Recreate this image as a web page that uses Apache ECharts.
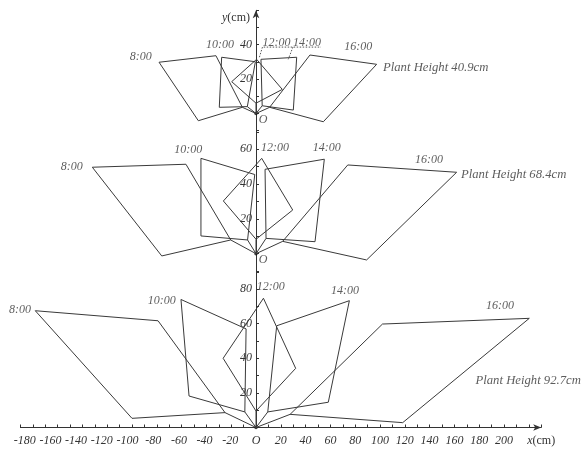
<!DOCTYPE html>
<html><head><meta charset="utf-8">
<script src="https://cdn.jsdelivr.net/npm/echarts@6/dist/echarts.min.js"></script>
<style>html,body{margin:0;padding:0;background:#fff}#c{width:583px;height:454px}</style>
</head><body><div id="c"></div>
<script>
// ---------- data ----------
const times = ['8:00', '10:00', '12:00', '14:00', '16:00'];
const plantHeights = ['Plant Height 40.9cm', 'Plant Height 68.4cm', 'Plant Height 92.7cm'];
const xTickLabels = [-180, -160, -140, -120, -100, -80, -60, -40, -20, 0, 20, 40, 60, 80, 100, 120, 140, 160, 180, 200];
const yTickLabels409 = [20, 40];
const yTickLabels684 = [20, 40, 60];
const yTickLabels927 = [20, 40, 60, 80];

// leaf outlines (cm): origin -> petiole end A -> blade corners -> back to A
const leaves409 = [
  [[0, 0], [-11, 3.6], [-46.5, -4.2], [-78.2, 29.8], [-32.3, 33.6], [-11, 3.6]],
  [[0, 0], [-7, 4], [-29.6, 3.6], [-27.7, 32.7], [-0.5, 30.1], [-7, 4]],
  [[0, 0], [0, 6], [-19.6, 18.5], [0.5, 31.5], [21.2, 14], [0, 6]],
  [[0, 0], [5, 4.5], [30.1, 2], [32.8, 32.7], [4, 31.5], [5, 4.5]],
  [[0, 0], [11, 3.6], [54.3, -4.8], [97.3, 28.6], [43.5, 34], [11, 3.6]]
];
const leaves684 = [
  [[0, 0], [-20.4, 7.9], [-76, -1.3], [-132, 49.7], [-56.5, 51.4], [-20.4, 7.9]],
  [[0, 0], [-6.8, 7.9], [-44.4, 10.2], [-44.4, 54.8], [-1, 45.5], [-6.8, 7.9]],
  [[0, 0], [0, 8.3], [-26.3, 30.3], [4.6, 54.8], [29.6, 25.1], [0, 8.3]],
  [[0, 0], [8.1, 8.8], [47.6, 6.9], [55.1, 54.3], [7.3, 48.5], [8.1, 8.8]],
  [[0, 0], [21.5, 7.1], [89.2, -3.6], [161.8, 46.8], [74, 51], [21.5, 7.1]]
];
const leaves927 = [
  [[0, 0], [-25, 8.6], [-100, 5.3], [-178, 67.5], [-79, 61.7], [-25, 8.6]],
  [[0, 0], [-9, 9], [-54, 18.2], [-60.5, 74], [-8, 57], [-9, 9]],
  [[0, 0], [0, 9.5], [-26.5, 40], [6, 74.7], [32, 34.2], [0, 9.5]],
  [[0, 0], [9.5, 9], [58.3, 14.6], [75.3, 73.3], [16.7, 58.8], [9.5, 9]],
  [[0, 0], [27.5, 7.6], [118.3, 2.8], [220.4, 63.1], [102, 59.8], [27.5, 7.6]]
];
// where each time label sits (cm, in its panel)
const timeLabelAt409 = [[-93, 33], [-29, 39.8], [16.5, 40.8], [41.2, 41.2], [82.5, 38.5]];
const timeLabelAt684 = [[-148.6, 50], [-54.6, 59.6], [15.3, 60.6], [57, 60.9], [139.5, 53.9]];
const timeLabelAt927 = [[-190.3, 67.9], [-76, 73.1], [11.9, 81.4], [71.8, 79.1], [196.8, 70.4]];
const heightLabelAt = [[102.4, 26.5], [165.3, 45.5], [177, 26.9]];
// dotted leader lines in the top panel
const leader12 = [[5.2, 38.6], [2.7, 32.6]];
const leader14 = [[29.8, 38.6], [26, 31.5]];
const leaderUnder = [[6.2, 38.6], [52.4, 38.6]];

// ---------- chart ----------
const FONT = '"Liberation Serif","Times New Roman",serif';
const INK = '#333';
const chart = echarts.init(document.getElementById('c'));

const gridLeft = 20.4, gridWidth = 520.8;
const xMin = -190, xMax = 230;
const zeroOffset = -(0 - xMin) / (xMax - xMin) * gridWidth; // move y axes onto x = 0
const grids = [
  { left: gridLeft, width: gridWidth, top: 10.3, height: 120.4 },
  { left: gridLeft, width: gridWidth, top: 130.7, height: 140.4 },
  { left: gridLeft, width: gridWidth, top: 271.1, height: 156.4 }
];
const yRanges = [[-10, 60], [-10, 70.69], [0, 90.4]];
const yLabelSets = [yTickLabels409, yTickLabels684, yTickLabels927];

const negRich = {};
xTickLabels.filter(v => v < 0).forEach(v => {
  negRich['m' + (-v)] = { padding: [0, Math.round(0.09 * -v), 0, 0],
    fontFamily: FONT, fontStyle: 'italic', fontSize: 12, color: INK };
});
negRich.n = { fontStyle: 'normal', fontFamily: FONT, fontSize: 12, color: INK };

const xAxes = [0, 1, 2].map(i => ({
  type: 'value', gridIndex: i, min: xMin, max: xMax, interval: 10,
  show: i === 2,
  axisLine: { show: true, onZero: true, lineStyle: { color: INK, width: 1 },
    symbol: ['none', 'arrow'], symbolSize: [5, 8] },
  axisTick: { show: true, inside: true, length: 3, lineStyle: { color: INK } },
  splitLine: { show: false },
  axisLabel: {
    margin: 7, color: INK, fontFamily: FONT, fontStyle: 'italic', fontSize: 12,
    rich: negRich,
    formatter: v => {
      if (v === 0) return 'O';
      if (v === 230) return 'x{n|(cm)}';
      if (!xTickLabels.includes(v)) return '';
      return v < 0 ? '{m' + (-v) + '|' + v + '}' : String(v);
    }
  }
}));

const yAxes = [0, 1, 2].map(i => ({
  type: 'value', gridIndex: i, min: yRanges[i][0], max: yRanges[i][1], interval: 10,
  position: 'left', offset: zeroOffset,
  axisLine: { show: true, onZero: false, lineStyle: { color: INK, width: 1 },
    symbol: i === 0 ? ['none', 'arrow'] : 'none', symbolSize: [5, 8] },
  axisTick: { show: true, inside: true, length: 3, lineStyle: { color: INK } },
  splitLine: { show: false },
  axisLabel: {
    margin: 4, color: INK, fontFamily: FONT, fontStyle: 'italic', fontSize: 12,
    formatter: v => yLabelSets[i].includes(v) ? String(v) : ''
  },
  name: i === 0 ? 'y{n|(cm)}' : '',
  nameLocation: 'end', nameGap: -2,
  nameTextStyle: {
    align: 'right', verticalAlign: 'top', padding: [0, 6, 0, 0],
    color: INK, fontFamily: FONT, fontStyle: 'italic', fontSize: 12,
    rich: { n: { fontStyle: 'normal', fontFamily: FONT, fontSize: 12, color: INK } }
  }
}));

const series = [];
const panels = [
  { leaves: leaves409, labels: timeLabelAt409 },
  { leaves: leaves684, labels: timeLabelAt684 },
  { leaves: leaves927, labels: timeLabelAt927 }
];
panels.forEach((p, i) => {
  p.leaves.forEach((leaf, k) => {
    series.push({
      type: 'line', xAxisIndex: i, yAxisIndex: i, data: leaf, name: times[k],
      showSymbol: false, symbol: 'none', clip: false, silent: true, animation: false,
      lineStyle: { color: '#3a3a3a', width: 1 }
    });
  });
  // time labels
  series.push({
    type: 'scatter', xAxisIndex: i, yAxisIndex: i, clip: false, silent: true, animation: false,
    symbolSize: 0,
    data: p.labels.map((c, k) => ({ value: c, name: times[k] })),
    label: { show: true, position: 'inside', formatter: d => d.name,
      color: INK, fontFamily: FONT, fontStyle: 'italic', fontSize: 12 }
  });
  // plant height label
  series.push({
    type: 'scatter', xAxisIndex: i, yAxisIndex: i, clip: false, silent: true, animation: false,
    symbolSize: 0,
    data: [{ value: heightLabelAt[i], name: plantHeights[i] }],
    label: { show: true, position: 'inside', align: 'left', formatter: d => d.name,
      color: INK, fontFamily: FONT, fontStyle: 'italic', fontSize: 12.7 }
  });
  // origin dot and O label
  series.push({
    type: 'scatter', xAxisIndex: i, yAxisIndex: i, clip: false, silent: true, animation: false,
    symbolSize: 3.5, itemStyle: { color: '#111' },
    data: [[0, 0]],
    label: { show: i < 2, position: 'right', distance: 1, offset: [0, 6], formatter: 'O',
      color: INK, fontFamily: FONT, fontStyle: 'italic', fontSize: 12 }
  });
});
[leader12, leader14, leaderUnder].forEach(seg => {
  series.push({
    type: 'line', xAxisIndex: 0, yAxisIndex: 0, data: seg, showSymbol: false, symbol: 'none',
    clip: false, silent: true, animation: false,
    lineStyle: { color: '#555', width: 1, type: [1.5, 1.5] }
  });
});

chart.setOption({
  backgroundColor: '#fff',
  animation: false,
  grid: grids,
  xAxis: xAxes,
  yAxis: yAxes,
  series: series
});
</script>
</body></html>
